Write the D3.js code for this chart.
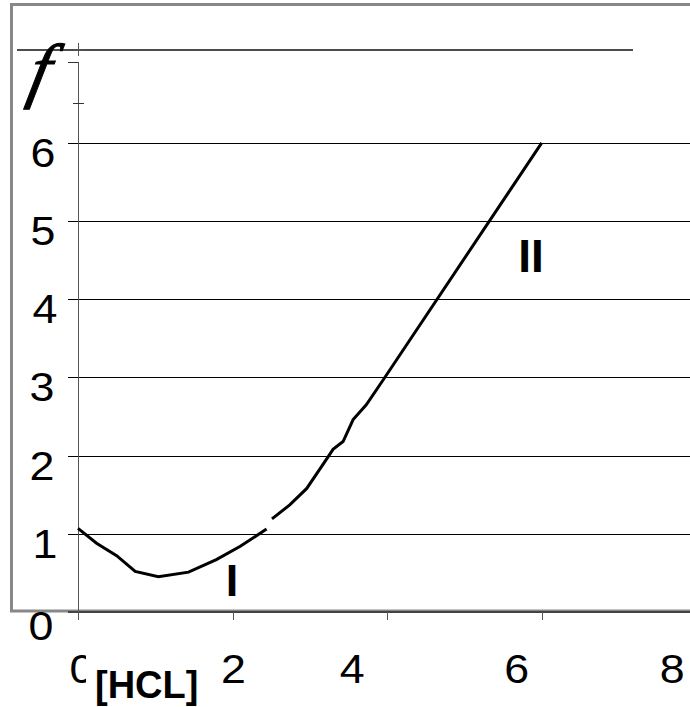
<!DOCTYPE html>
<html>
<head>
<meta charset="utf-8">
<script src="https://cdn.jsdelivr.net/npm/d3@7"></script>
<style>
  html, body { margin: 0; padding: 0; background: #fff; overflow: hidden; }
  svg { display: block; }
</style>
</head>
<body>
<div id="app"></div>
<script>
// curve I (left branch, minimum near 1)
var xI = [0, 0.24, 0.5, 0.74, 1.04, 1.43, 1.79, 2.1, 2.44];
var yI = [1.07, 0.88, 0.72, 0.52, 0.45, 0.51, 0.67, 0.84, 1.06];
// curve II (rising branch)
var xII = [2.51, 2.74, 2.96, 3.24, 3.3, 3.43, 3.56, 3.73, 3.95, 6.0];
var yII = [1.19, 1.37, 1.58, 1.99, 2.08, 2.18, 2.46, 2.65, 2.97, 6.0];

var yTicks = [0, 1, 2, 3, 4, 5, 6];
var xTicks = [0, 2, 4, 6, 8];
var xLabels = ['0', '2', '4', '6', '8'];

var W = 690, H = 707;
var sans = "'Liberation Sans', Arial, sans-serif";

var svg = d3.select('#app')
    .append('svg')
    .attr('width', W)
    .attr('height', H);

var x = d3.scaleLinear().domain([0, 6]).range([78, 541.7]);
var y = d3.scaleLinear().domain([0, 7]).range([612, 64.6]);

// outer frame (grey box)
svg.append('rect')
    .attr('x', 11.5).attr('y', 4.5)
    .attr('width', 700).attr('height', 606.5)
    .attr('fill', 'none')
    .attr('stroke', '#888')
    .attr('stroke-width', 3);

// top border line of the plot
svg.append('line')
    .attr('x1', 17).attr('x2', 633)
    .attr('y1', 50).attr('y2', 50)
    .attr('stroke', '#111')
    .attr('stroke-width', 1.5);

// gridlines with left tick
svg.selectAll('.grid')
    .data(yTicks.slice(1))
    .enter()
    .append('line')
    .attr('class', 'grid')
    .attr('x1', 68).attr('x2', W)
    .attr('y1', function (d) { return Math.round(y(d)) + 0.5 })
    .attr('y2', function (d) { return Math.round(y(d)) + 0.5 })
    .attr('stroke', '#000')
    .attr('stroke-width', 1);

// x axis
svg.append('line')
    .attr('x1', 68).attr('x2', W)
    .attr('y1', y(0)).attr('y2', y(0))
    .attr('stroke', '#444')
    .attr('stroke-width', 2);

svg.selectAll('.xtick')
    .data(xTicks.filter(function (d) { return d > 0 && d < 8 }))
    .enter()
    .append('line')
    .attr('x1', function (d) { return Math.round(x(d)) + 0.5 })
    .attr('x2', function (d) { return Math.round(x(d)) + 0.5 })
    .attr('y1', y(0)).attr('y2', y(0) + 8)
    .attr('stroke', '#555');

// y axis
svg.append('line')
    .attr('x1', 78.5).attr('x2', 78.5)
    .attr('y1', 62).attr('y2', 620)
    .attr('stroke', '#555')
    .attr('stroke-width', 1);
svg.append('line')
    .attr('x1', 68).attr('x2', 78.5)
    .attr('y1', 62.5).attr('y2', 62.5)
    .attr('stroke', '#333');
svg.append('line')
    .attr('x1', 73).attr('x2', 84)
    .attr('y1', 103.5).attr('y2', 103.5)
    .attr('stroke', '#333');
svg.append('line')
    .attr('x1', 78.5).attr('x2', 78.5)
    .attr('y1', 43).attr('y2', 56)
    .attr('stroke', '#555');
svg.append('line')
    .attr('x1', 74).attr('x2', 84)
    .attr('y1', 50).attr('y2', 50)
    .attr('stroke', '#555');

// y labels
var yNudge = [-1, 3, 0, 0, 3, 1, 1];
svg.selectAll('.ylab')
    .data(yTicks)
    .enter()
    .append('text')
    .attr('class', 'ylab')
    .attr('transform', function (d, i) {
        return 'translate(' + (42 + yNudge[i]) + ',' + (y(d) + (d === 0 ? 28 : 24)) + ') scale(1.12,1)'
    })
    .attr('text-anchor', 'middle')
    .style('font-family', sans)
    .style('font-size', '40px')
    .text(function (d) { return d });

// x labels (positions in the source are not aligned with ticks)
var xNudge = [4, 1, -35, -25, -24];
var xlabG = svg.append('g');
xlabG.selectAll('text')
    .data(xTicks)
    .enter()
    .append('text')
    .attr('transform', function (d, i) {
        return 'translate(' + (78 + (d / 6) * 463.7 + xNudge[i]) + ',683) scale(1.12,1)'
    })
    .attr('text-anchor', 'middle')
    .style('font-family', sans)
    .style('font-size', '40px')
    .text(function (d, i) { return xLabels[i] });

// [HCL] text box, covers part of the 0 label
svg.append('rect')
    .attr('x', 86).attr('y', 648)
    .attr('width', 116).attr('height', 59)
    .attr('fill', '#fff');
svg.append('text')
    .attr('x', 95).attr('y', 698)
    .style('font-family', sans)
    .style('font-weight', 'bold')
    .style('font-size', '38px')
    .text('[HCL]');

// f label
svg.append('text')
    .attr('transform', 'translate(26,94) skewX(-12)')
    .style('font-family', "'Liberation Serif', 'Times New Roman', serif")
    .style('font-style', 'italic')
    .style('font-size', '72px')
    .attr('stroke', '#000')
    .attr('stroke-width', 1)
    .text('f');

var line = d3.line()
    .x(function (d) { return x(d[0]) })
    .y(function (d) { return y(d[1]) });

svg.append('path')
    .attr('d', line(xI.map(function (v, i) { return [v, yI[i]] })))
    .attr('fill', 'none')
    .attr('stroke', '#000')
    .attr('stroke-width', 3);

svg.append('path')
    .attr('d', line(xII.map(function (v, i) { return [v, yII[i]] })))
    .attr('fill', 'none')
    .attr('stroke', '#000')
    .attr('stroke-width', 3);

// branch labels
svg.append('text')
    .attr('x', 232).attr('y', 596)
    .attr('text-anchor', 'middle')
    .style('font-family', sans)
    .style('font-weight', 'bold')
    .style('font-size', '45px')
    .text('I');
svg.append('text')
    .attr('x', 531).attr('y', 272)
    .attr('text-anchor', 'middle')
    .style('font-family', sans)
    .style('font-weight', 'bold')
    .style('font-size', '46px')
    .text('II');
</script>
</body>
</html>
